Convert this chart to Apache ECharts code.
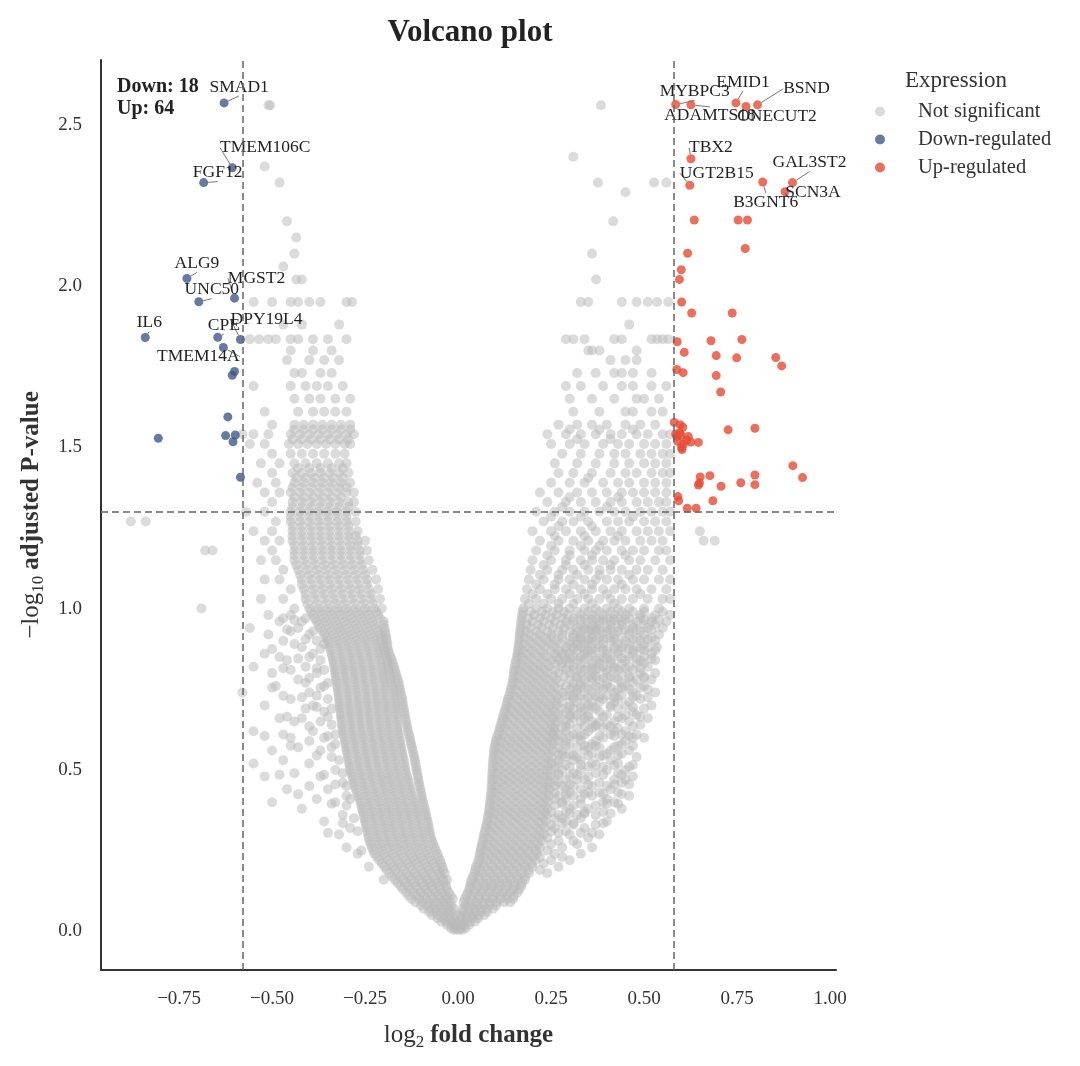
<!DOCTYPE html>
<html>
<head>
<meta charset="utf-8">
<title>Volcano plot</title>
<script src="https://cdn.jsdelivr.net/npm/echarts@6/dist/echarts.min.js"></script>
<style>
  html, body { margin: 0; padding: 0; background: #fff; }
  #chart { width: 1080px; height: 1066px; }
</style>
</head>
<body>
<div id="chart"></div>
<script>
// thresholds: |log2FC| > log2(1.5), padj < 0.05
const fcCut = 0.585
const pCut = 1.301

const xTicks = [-0.75, -0.5, -0.25, 0, 0.25, 0.5, 0.75, 1.0]
const yTicks = [0, 0.5, 1.0, 1.5, 2.0, 2.5]

// down-regulated genes
const downX = [-0.629, -0.607, -0.684, -0.729, -0.697, -0.601, -0.841, -0.646, -0.585, -0.631,
  -0.601, -0.607, -0.619, -0.806, -0.625, -0.599, -0.605, -0.585]
const downY = [2.567, 2.366, 2.320, 2.023, 1.951, 1.962, 1.840, 1.841, 1.834, 1.809,
  1.735, 1.723, 1.594, 1.528, 1.536, 1.538, 1.517, 1.407]
const downGenes = ['SMAD1', 'TMEM106C', 'FGF12', 'ALG9', 'UNC50', 'MGST2', 'IL6', 'CPE', 'DPY19L4', 'TMEM14A',
  '', '', '', '', '', '', '', '']

// up-regulated genes
const upX = [0.585, 0.626, 0.747, 0.774, 0.805, 0.626, 0.623, 0.899, 0.819, 0.879,
  0.635, 0.753, 0.778, 0.772, 0.617, 0.600, 0.595, 0.601, 0.628, 0.737,
  0.589, 0.680, 0.763, 0.608, 0.694, 0.749, 0.854, 0.870, 0.588, 0.605,
  0.694, 0.706, 0.581, 0.597, 0.604, 0.585, 0.599, 0.619, 0.646, 0.590,
  0.606, 0.601, 0.626, 0.614, 0.588, 0.602, 0.726, 0.798, 0.900, 0.926,
  0.651, 0.677, 0.798, 0.649, 0.646, 0.707, 0.760, 0.798, 0.591, 0.593,
  0.685, 0.616, 0.640, 0.596]
const upY = [2.562, 2.561, 2.567, 2.556, 2.561, 2.394, 2.312, 2.320, 2.322, 2.292,
  2.204, 2.204, 2.204, 2.116, 2.101, 2.050, 2.020, 1.950, 1.916, 1.916,
  1.827, 1.830, 1.834, 1.794, 1.784, 1.777, 1.778, 1.752, 1.741, 1.731,
  1.722, 1.671, 1.577, 1.570, 1.562, 1.541, 1.537, 1.533, 1.515, 1.518,
  1.510, 1.499, 1.516, 1.522, 1.534, 1.493, 1.554, 1.559, 1.443, 1.406,
  1.408, 1.412, 1.414, 1.389, 1.383, 1.379, 1.390, 1.384, 1.347, 1.334,
  1.334, 1.311, 1.311, 1.545]
const upGenes = ['MYBPC3', 'ADAMTS18', 'EMID1', 'ONECUT2', 'BSND', 'TBX2', 'UGT2B15', 'GAL3ST2', 'B3GNT6', 'SCN3A']

// not significant genes, one row per -log10(padj) level: [y, x, x, ...]
const nsRows = [
  [0.005, -0.012, -0.004, 0.004, 0.012],
  [0.01, -0.02, -0.008, 0.008, 0.02],
  [0.02, -0.03, -0.018, -0.007, 0.006, 0.017, 0.03],
  [0.03, -0.045, -0.032, -0.018, -0.005, 0.005, 0.018, 0.032, 0.045],
  [0.04, -0.055, -0.04, -0.025, -0.011, 0.01, 0.024, 0.039, 0.054],
  [0.05, -0.07, -0.054, -0.038, -0.023, -0.008, 0.008, 0.022, 0.038, 0.054, 0.07],
  [0.06, -0.078, -0.062, -0.046, -0.031, -0.016, 0.014, 0.03, 0.046, 0.062, 0.078],
  [0.07, -0.092, -0.075, -0.058, -0.041, -0.025, -0.012, 0.012, 0.028, 0.044, 0.06, 0.077, 0.094],
  [0.08, -0.1, -0.083, -0.066, -0.049, -0.033, -0.018, 0.02, 0.036, 0.052, 0.068, 0.085, 0.102],
  [0.09, -0.115, -0.096, -0.077, -0.058, -0.04, -0.022, 0.015, 0.028, 0.047, 0.066, 0.085, 0.104, 0.123, 0.14],
  [0.10, -0.125, -0.105, -0.086, -0.067, -0.049, -0.031, -0.014, 0.018, 0.037, 0.056, 0.075, 0.094, 0.113, 0.132, 0.148],
  [0.11, -0.133, -0.112, -0.092, -0.072, -0.053, -0.035, -0.02, 0.022, 0.036, 0.055, 0.074, 0.093, 0.112, 0.131, 0.15],
  [0.12, -0.14, -0.12, -0.1, -0.08, -0.061, -0.042, -0.025, 0.026, 0.045, 0.064, 0.083, 0.102, 0.121, 0.14, 0.16],
  [0.13, -0.148, -0.128, -0.108, -0.088, -0.068, -0.049, -0.03, 0.03, 0.048, 0.068, 0.088, 0.108, 0.128, 0.148, 0.165],
  [0.14, -0.155, -0.133, -0.112, -0.091, -0.071, -0.051, -0.032, 0.032, 0.052, 0.072, 0.092, 0.112, 0.132, 0.152, 0.17],
  [0.15, -0.163, -0.141, -0.119, -0.097, -0.076, -0.056, -0.036, 0.034, 0.047, 0.068, 0.089, 0.11, 0.131, 0.152, 0.172],
  [0.16, -0.17, -0.148, -0.126, -0.104, -0.083, -0.062, -0.041, -0.03, 0.036, 0.057, 0.078, 0.099, 0.12, 0.141, 0.162, 0.18, -0.2],
  [0.17, -0.178, -0.155, -0.132, -0.11, -0.088, -0.067, -0.046, 0.04, 0.054, 0.075, 0.096, 0.117, 0.138, 0.159, 0.18],
  [0.18, -0.185, -0.162, -0.139, -0.116, -0.094, -0.072, -0.05, -0.036, 0.044, 0.065, 0.086, 0.107, 0.128, 0.149, 0.17, 0.19, 0.24],
  [0.19, -0.192, -0.169, -0.146, -0.123, -0.1, -0.078, -0.056, -0.04, 0.046, 0.06, 0.081, 0.103, 0.125, 0.147, 0.169, 0.19, 0.22],
  [0.20, -0.198, -0.175, -0.152, -0.129, -0.106, -0.083, -0.061, -0.042, 0.048, 0.07, 0.092, 0.114, 0.136, 0.158, 0.18, 0.2, -0.24, 0.27],
  [0.21, -0.205, -0.182, -0.159, -0.136, -0.113, -0.09, -0.067, -0.046, 0.052, 0.066, 0.088, 0.11, 0.132, 0.154, 0.176, 0.198, 0.23],
  [0.22, -0.212, -0.188, -0.164, -0.14, -0.117, -0.094, -0.071, -0.048, 0.055, 0.077, 0.099, 0.121, 0.143, 0.165, 0.187, 0.208, 0.25, 0.3],
  [0.23, -0.218, -0.194, -0.17, -0.146, -0.122, -0.099, -0.076, -0.053, 0.058, 0.07, 0.092, 0.114, 0.136, 0.158, 0.18, 0.202, 0.22, 0.28],
  [0.24, -0.225, -0.2, -0.176, -0.152, -0.128, -0.104, -0.08, -0.055, 0.058, 0.08, 0.102, 0.124, 0.146, 0.168, 0.19, 0.212, -0.27, 0.26, 0.33],
  [0.25, -0.228, -0.204, -0.18, -0.156, -0.132, -0.108, -0.084, -0.06, 0.061, 0.074, 0.097, 0.12, 0.143, 0.166, 0.189, 0.21, 0.24, -0.26],
  [0.26, -0.232, -0.208, -0.184, -0.16, -0.136, -0.112, -0.088, -0.063, 0.062, 0.085, 0.108, 0.131, 0.154, 0.177, 0.2, 0.22, -0.3, 0.28, 0.36],
  [0.27, -0.235, -0.211, -0.187, -0.163, -0.139, -0.115, -0.091, -0.067, 0.064, 0.078, 0.1, 0.123, 0.146, 0.169, 0.192, 0.215, 0.25, 0.32],
  [0.28, -0.238, -0.214, -0.19, -0.166, -0.142, -0.118, -0.094, -0.07, 0.066, 0.089, 0.112, 0.135, 0.158, 0.181, 0.204, 0.226, 0.27, 0.31],
  [0.29, -0.24, -0.216, -0.192, -0.168, -0.144, -0.12, -0.096, -0.073, 0.068, 0.082, 0.104, 0.127, 0.15, 0.173, 0.196, 0.219, 0.24, 0.35],
  [0.30, -0.242, -0.218, -0.194, -0.17, -0.146, -0.122, -0.098, -0.075, 0.07, 0.093, 0.116, 0.139, 0.162, 0.185, 0.208, 0.23, -0.32, 0.3, 0.38],
  [0.31, -0.244, -0.22, -0.196, -0.172, -0.148, -0.124, -0.1, -0.077, 0.072, 0.086, 0.108, 0.131, 0.154, 0.177, 0.2, 0.222, 0.25, 0.29, -0.27],
  [0.32, -0.246, -0.222, -0.198, -0.174, -0.15, -0.126, -0.102, -0.078, 0.074, 0.097, 0.12, 0.143, 0.166, 0.189, 0.212, 0.233, -0.29, 0.26, 0.34],
  [0.33, -0.248, -0.224, -0.2, -0.176, -0.152, -0.128, -0.104, -0.08, 0.076, 0.09, 0.112, 0.135, 0.158, 0.181, 0.204, 0.226, 0.25, 0.31, 0.37],
  [0.34, -0.25, -0.226, -0.202, -0.178, -0.154, -0.13, -0.106, -0.082, 0.078, 0.101, 0.124, 0.147, 0.17, 0.193, 0.216, 0.236, -0.36, 0.29, 0.4],
  [0.35, -0.252, -0.228, -0.204, -0.18, -0.156, -0.132, -0.108, -0.084, 0.08, 0.093, 0.115, 0.138, 0.161, 0.184, 0.207, 0.229, 0.26, 0.28, 0.33, -0.28],
  [0.36, -0.254, -0.23, -0.206, -0.182, -0.158, -0.134, -0.11, -0.086, 0.081, 0.104, 0.127, 0.15, 0.173, 0.196, 0.219, 0.238, -0.31, 0.27, 0.32, 0.37],
  [0.37, -0.256, -0.232, -0.208, -0.184, -0.16, -0.136, -0.112, -0.088, 0.083, 0.096, 0.118, 0.141, 0.164, 0.187, 0.21, 0.232, 0.25, 0.29, 0.34, 0.39],
  [0.38, -0.258, -0.234, -0.21, -0.186, -0.162, -0.138, -0.114, -0.09, 0.084, 0.107, 0.13, 0.153, 0.176, 0.199, 0.222, 0.24, -0.42, 0.3, 0.35, 0.44],
  [0.39, -0.26, -0.236, -0.212, -0.188, -0.164, -0.14, -0.116, -0.092, 0.085, 0.098, 0.12, 0.143, 0.166, 0.189, 0.212, 0.234, 0.26, 0.31, 0.37, -0.3],
  [0.40, -0.262, -0.238, -0.214, -0.19, -0.166, -0.142, -0.118, -0.094, 0.086, 0.109, 0.132, 0.155, 0.178, 0.201, 0.224, 0.242, -0.33, -0.5, 0.28, 0.39, 0.42],
  [0.41, -0.265, -0.241, -0.217, -0.193, -0.169, -0.145, -0.121, -0.096, 0.087, 0.1, 0.122, 0.145, 0.168, 0.191, 0.214, 0.236, 0.26, 0.29, 0.33, 0.4, -0.29, -0.38],
  [0.42, -0.268, -0.244, -0.22, -0.196, -0.172, -0.148, -0.124, -0.098, 0.088, 0.111, 0.134, 0.157, 0.18, 0.203, 0.226, 0.244, -0.3, 0.27, 0.31, 0.36, 0.46],
  [0.43, -0.272, -0.247, -0.222, -0.198, -0.174, -0.15, -0.126, -0.1, 0.089, 0.102, 0.124, 0.147, 0.17, 0.193, 0.216, 0.238, 0.26, 0.3, 0.35, 0.38, 0.43],
  [0.44, -0.275, -0.25, -0.225, -0.2, -0.176, -0.152, -0.128, -0.101, 0.09, 0.113, 0.136, 0.159, 0.182, 0.205, 0.228, 0.246, -0.46, -0.35, 0.29, 0.33, 0.41],
  [0.45, -0.278, -0.253, -0.228, -0.203, -0.179, -0.155, -0.131, -0.104, 0.09, 0.103, 0.125, 0.148, 0.171, 0.194, 0.217, 0.24, 0.26, 0.28, 0.31, 0.36, 0.4, -0.3, -0.4],
  [0.46, -0.28, -0.255, -0.23, -0.205, -0.181, -0.157, -0.133, -0.105, 0.091, 0.114, 0.137, 0.16, 0.183, 0.206, 0.229, 0.247, -0.31, 0.27, 0.38, 0.44],
  [0.47, -0.282, -0.257, -0.232, -0.207, -0.183, -0.159, -0.135, -0.107, 0.091, 0.104, 0.126, 0.149, 0.172, 0.195, 0.218, 0.24, 0.26, 0.29, 0.32, 0.34, 0.42, 0.45],
  [0.48, -0.284, -0.259, -0.234, -0.209, -0.185, -0.161, -0.137, -0.108, 0.092, 0.115, 0.138, 0.161, 0.184, 0.207, 0.23, 0.248, -0.52, -0.37, 0.3, 0.35, 0.47],
  [0.49, -0.287, -0.262, -0.237, -0.212, -0.188, -0.164, -0.14, -0.11, 0.092, 0.105, 0.127, 0.15, 0.173, 0.196, 0.219, 0.241, 0.27, 0.31, 0.37, 0.43, -0.31, -0.44],
  [0.50, -0.29, -0.265, -0.24, -0.215, -0.19, -0.166, -0.142, -0.112, 0.093, 0.116, 0.139, 0.162, 0.185, 0.208, 0.231, 0.25, -0.33, 0.28, 0.33, 0.4, 0.45],
  [0.51, -0.291, -0.266, -0.241, -0.216, -0.191, -0.167, -0.143, -0.113, 0.093, 0.106, 0.128, 0.151, 0.174, 0.197, 0.22, 0.242, 0.26, 0.3, 0.35, 0.39, 0.46],
  [0.52, -0.293, -0.268, -0.243, -0.218, -0.193, -0.169, -0.145, -0.115, 0.094, 0.117, 0.14, 0.163, 0.186, 0.209, 0.232, 0.251, -0.4, -0.55, 0.27, 0.36, 0.43],
  [0.53, -0.294, -0.269, -0.244, -0.219, -0.194, -0.17, -0.146, -0.116, 0.094, 0.107, 0.129, 0.152, 0.175, 0.198, 0.221, 0.243, 0.27, 0.31, 0.33, 0.41, -0.32, -0.47],
  [0.54, -0.296, -0.271, -0.246, -0.221, -0.196, -0.172, -0.148, -0.118, 0.095, 0.118, 0.141, 0.164, 0.187, 0.21, 0.233, 0.253, -0.34, 0.29, 0.32, 0.38, 0.48],
  [0.55, -0.298, -0.273, -0.248, -0.223, -0.198, -0.174, -0.15, -0.12, 0.096, 0.109, 0.131, 0.154, 0.177, 0.2, 0.223, 0.245, 0.27, 0.3, 0.36, 0.4, 0.44],
  [0.56, -0.3, -0.275, -0.25, -0.225, -0.2, -0.176, -0.152, -0.122, 0.097, 0.12, 0.143, 0.166, 0.189, 0.212, 0.235, 0.255, -0.5, -0.37, 0.28, 0.34, 0.41, 0.46],
  [0.57, -0.301, -0.276, -0.251, -0.226, -0.201, -0.177, -0.153, -0.124, 0.098, 0.112, 0.134, 0.157, 0.18, 0.203, 0.226, 0.248, 0.27, 0.32, 0.35, 0.38, 0.42, -0.34, -0.43],
  [0.58, -0.303, -0.278, -0.253, -0.228, -0.203, -0.179, -0.155, -0.126, 0.1, 0.123, 0.146, 0.169, 0.192, 0.215, 0.238, 0.256, -0.33, 0.3, 0.36, 0.44],
  [0.59, -0.304, -0.279, -0.254, -0.229, -0.204, -0.18, -0.156, -0.128, 0.102, 0.115, 0.138, 0.161, 0.184, 0.207, 0.23, 0.25, 0.27, 0.29, 0.33, 0.37, 0.45, -0.4],
  [0.60, -0.306, -0.281, -0.256, -0.231, -0.206, -0.182, -0.158, -0.13, 0.104, 0.127, 0.15, 0.173, 0.196, 0.219, 0.242, 0.258, -0.45, -0.36, 0.28, 0.32, 0.39, 0.47, 0.5],
  [0.61, -0.308, -0.283, -0.258, -0.233, -0.208, -0.184, -0.16, -0.132, 0.107, 0.121, 0.144, 0.167, 0.19, 0.213, 0.236, 0.255, 0.27, 0.31, 0.34, 0.41, 0.44, 0.48, -0.33, -0.47],
  [0.62, -0.31, -0.285, -0.26, -0.235, -0.21, -0.186, -0.162, -0.135, 0.11, 0.133, 0.156, 0.179, 0.202, 0.225, 0.248, 0.26, -0.55, -0.39, 0.29, 0.35, 0.42, 0.45],
  [0.63, -0.311, -0.286, -0.261, -0.236, -0.211, -0.187, -0.163, -0.136, 0.112, 0.126, 0.149, 0.172, 0.195, 0.218, 0.241, 0.258, 0.28, 0.32, 0.36, 0.39, 0.43],
  [0.64, -0.312, -0.287, -0.262, -0.237, -0.212, -0.188, -0.164, -0.138, 0.115, 0.138, 0.161, 0.184, 0.207, 0.23, 0.25, 0.262, -0.34, 0.3, 0.37, 0.4, 0.49],
  [0.65, -0.313, -0.288, -0.263, -0.238, -0.213, -0.189, -0.165, -0.14, 0.117, 0.131, 0.154, 0.177, 0.2, 0.223, 0.246, 0.265, 0.29, 0.33, 0.36, 0.38, 0.42, 0.46, -0.37, -0.44],
  [0.66, -0.314, -0.289, -0.264, -0.239, -0.214, -0.19, -0.166, -0.142, 0.12, 0.143, 0.166, 0.189, 0.212, 0.235, 0.255, 0.275, -0.42, -0.48, 0.31, 0.34, 0.44, 0.51],
  [0.67, -0.315, -0.29, -0.265, -0.24, -0.215, -0.191, -0.167, -0.143, 0.122, 0.136, 0.159, 0.182, 0.205, 0.228, 0.25, 0.27, 0.3, 0.32, 0.35, 0.4, 0.45, 0.48],
  [0.68, -0.316, -0.291, -0.266, -0.241, -0.216, -0.192, -0.168, -0.145, 0.125, 0.148, 0.171, 0.194, 0.217, 0.24, 0.26, 0.29, -0.36, 0.33, 0.38, 0.47],
  [0.69, -0.317, -0.292, -0.267, -0.242, -0.217, -0.193, -0.169, -0.146, 0.127, 0.141, 0.164, 0.187, 0.21, 0.233, 0.255, 0.28, 0.31, 0.34, 0.37, 0.43, 0.5, -0.34, -0.41],
  [0.70, -0.318, -0.293, -0.268, -0.243, -0.218, -0.194, -0.17, -0.148, 0.13, 0.153, 0.176, 0.199, 0.222, 0.245, 0.265, 0.3, -0.52, -0.39, 0.35, 0.41, 0.45, 0.52],
  [0.71, -0.319, -0.294, -0.269, -0.244, -0.219, -0.195, -0.171, -0.149, 0.132, 0.145, 0.168, 0.191, 0.214, 0.237, 0.26, 0.28, 0.32, 0.36, 0.38, 0.42, 0.46],
  [0.72, -0.32, -0.295, -0.27, -0.245, -0.22, -0.196, -0.172, -0.15, 0.134, 0.157, 0.18, 0.203, 0.226, 0.249, 0.27, 0.31, -0.35, -0.45, 0.34, 0.39, 0.43, 0.49],
  [0.73, -0.321, -0.296, -0.271, -0.246, -0.221, -0.197, -0.173, -0.152, 0.137, 0.151, 0.174, 0.197, 0.22, 0.243, 0.265, 0.29, 0.3, 0.33, 0.37, 0.4, 0.44, 0.48, -0.38, -0.47],
  [0.74, -0.322, -0.297, -0.272, -0.247, -0.222, -0.198, -0.174, -0.155, 0.14, 0.163, 0.186, 0.209, 0.232, 0.255, 0.28, 0.32, -0.58, -0.4, 0.36, 0.42, 0.47, 0.53],
  [0.75, -0.323, -0.298, -0.273, -0.248, -0.223, -0.199, -0.176, -0.156, 0.142, 0.155, 0.178, 0.201, 0.224, 0.247, 0.27, 0.3, 0.32, 0.35, 0.39, 0.43, 0.46, 0.51],
  [0.76, -0.325, -0.3, -0.275, -0.25, -0.225, -0.2, -0.178, -0.158, 0.144, 0.167, 0.19, 0.213, 0.236, 0.259, 0.29, 0.33, -0.36, -0.49, 0.37, 0.4, 0.45, 0.5],
  [0.77, -0.326, -0.301, -0.276, -0.251, -0.226, -0.201, -0.18, -0.16, 0.146, 0.159, 0.182, 0.205, 0.228, 0.251, 0.275, 0.31, 0.33, 0.36, 0.4, 0.44, 0.47, -0.35, -0.41],
  [0.78, -0.328, -0.303, -0.278, -0.253, -0.228, -0.203, -0.181, -0.162, 0.148, 0.171, 0.194, 0.217, 0.24, 0.263, 0.3, 0.34, -0.43, 0.38, 0.43, 0.48, 0.52],
  [0.79, -0.329, -0.304, -0.279, -0.254, -0.229, -0.204, -0.183, -0.165, 0.149, 0.162, 0.185, 0.208, 0.231, 0.256, 0.285, 0.32, 0.35, 0.37, 0.41, 0.46, 0.5],
  [0.80, -0.33, -0.305, -0.28, -0.255, -0.23, -0.205, -0.185, -0.168, 0.15, 0.173, 0.196, 0.219, 0.242, 0.27, 0.3, 0.33, -0.38, -0.5, 0.36, 0.4, 0.44, 0.49, 0.53],
  [0.81, -0.331, -0.306, -0.281, -0.256, -0.231, -0.206, -0.187, -0.17, 0.151, 0.165, 0.188, 0.211, 0.234, 0.26, 0.29, 0.31, 0.34, 0.37, 0.4, 0.43, 0.47, -0.36, -0.45],
  [0.82, -0.333, -0.308, -0.283, -0.258, -0.233, -0.208, -0.188, -0.172, 0.153, 0.176, 0.199, 0.222, 0.245, 0.28, 0.31, 0.35, -0.41, -0.55, 0.39, 0.42, 0.46, 0.51],
  [0.83, -0.334, -0.309, -0.284, -0.259, -0.234, -0.209, -0.19, -0.175, 0.154, 0.168, 0.191, 0.214, 0.238, 0.26, 0.28, 0.3, 0.33, 0.36, 0.38, 0.41, 0.44, 0.48, 0.5],
  [0.84, -0.336, -0.311, -0.286, -0.261, -0.236, -0.211, -0.19, -0.178, 0.156, 0.179, 0.202, 0.225, 0.25, 0.27, 0.29, 0.32, 0.37, -0.37, -0.46, 0.41, 0.45, 0.49, 0.53],
  [0.85, -0.338, -0.313, -0.288, -0.263, -0.238, -0.213, -0.193, -0.181, 0.158, 0.171, 0.194, 0.218, 0.24, 0.265, 0.285, 0.31, 0.33, 0.35, 0.39, 0.42, 0.46, 0.5, -0.4, -0.48],
  [0.86, -0.34, -0.315, -0.29, -0.265, -0.24, -0.215, -0.195, -0.185, 0.16, 0.183, 0.206, 0.23, 0.26, 0.28, 0.3, 0.34, 0.36, -0.39, -0.52, 0.4, 0.43, 0.47, 0.52],
  [0.87, -0.342, -0.317, -0.292, -0.267, -0.242, -0.217, -0.197, -0.187, 0.161, 0.174, 0.198, 0.222, 0.248, 0.27, 0.29, 0.32, 0.35, 0.37, 0.4, 0.44, 0.47, 0.5, 0.53],
  [0.88, -0.345, -0.32, -0.295, -0.27, -0.245, -0.22, -0.2, -0.19, 0.162, 0.186, 0.21, 0.235, 0.26, 0.29, 0.31, 0.33, 0.38, -0.42, 0.42, 0.44, 0.48, 0.51, 0.535],
  [0.89, -0.347, -0.322, -0.297, -0.272, -0.247, -0.222, -0.202, -0.19, 0.163, 0.177, 0.2, 0.225, 0.25, 0.275, 0.3, 0.32, 0.34, 0.36, 0.39, 0.43, 0.46, 0.5, -0.36, -0.44],
  [0.90, -0.35, -0.325, -0.3, -0.275, -0.25, -0.225, -0.205, -0.192, 0.165, 0.19, 0.215, 0.24, 0.265, 0.3, 0.32, 0.35, 0.37, -0.38, -0.47, 0.41, 0.45, 0.49, 0.53],
  [0.91, -0.355, -0.33, -0.305, -0.28, -0.255, -0.23, -0.208, -0.193, 0.165, 0.18, 0.205, 0.23, 0.255, 0.28, 0.31, 0.33, 0.36, 0.38, 0.41, 0.44, 0.48, 0.52],
  [0.92, -0.36, -0.335, -0.31, -0.285, -0.26, -0.235, -0.21, -0.195, 0.166, 0.192, 0.22, 0.25, 0.28, 0.31, 0.33, 0.36, 0.39, -0.4, -0.51, 0.42, 0.46, 0.5, 0.54],
  [0.93, -0.365, -0.34, -0.315, -0.29, -0.265, -0.24, -0.215, -0.196, 0.167, 0.182, 0.21, 0.24, 0.27, 0.3, 0.32, 0.35, 0.37, 0.4, 0.43, 0.46, 0.49, -0.39, -0.45],
  [0.94, -0.37, -0.345, -0.32, -0.295, -0.27, -0.245, -0.22, -0.198, 0.168, 0.195, 0.225, 0.255, 0.285, 0.32, 0.34, 0.37, 0.4, -0.43, -0.56, 0.43, 0.47, 0.51, 0.55],
  [0.95, -0.375, -0.35, -0.325, -0.3, -0.275, -0.25, -0.225, -0.2, 0.169, 0.185, 0.215, 0.245, 0.275, 0.3, 0.33, 0.36, 0.38, 0.41, 0.44, 0.47, 0.5, 0.53],
  [0.96, -0.38, -0.355, -0.33, -0.305, -0.28, -0.255, -0.23, -0.2, 0.17, 0.2, 0.23, 0.26, 0.29, 0.31, 0.35, 0.38, 0.41, -0.42, -0.48, 0.44, 0.48, 0.52, 0.56],
  [0.97, -0.385, -0.36, -0.335, -0.31, -0.285, -0.26, -0.235, -0.21, 0.171, 0.19, 0.22, 0.25, 0.28, 0.31, 0.34, 0.37, 0.4, 0.43, 0.46, 0.49, 0.52, -0.41, -0.47],
  [0.98, -0.39, -0.365, -0.34, -0.315, -0.29, -0.265, -0.24, -0.215, 0.172, 0.205, 0.235, 0.265, 0.295, 0.33, 0.36, 0.39, 0.42, -0.45, -0.51, 0.45, 0.49, 0.53, 0.57],
  [0.99, -0.395, -0.37, -0.345, -0.32, -0.295, -0.27, -0.245, -0.22, 0.174, 0.195, 0.225, 0.255, 0.285, 0.32, 0.35, 0.38, 0.41, 0.44, 0.47, 0.5, 0.55],
  [1.00, -0.4, -0.375, -0.35, -0.325, -0.3, -0.275, -0.25, -0.225, -0.205, 0.175, 0.21, 0.24, 0.27, 0.3, 0.34, 0.37, 0.4, 0.43, -0.44, -0.69, 0.46, 0.5, 0.54],
  [1.015, -0.405, -0.38, -0.355, -0.33, -0.305, -0.28, -0.255, -0.23, 0.19, 0.23, 0.27, 0.31, 0.36, 0.42],
  [1.03, -0.41, -0.385, -0.36, -0.335, -0.31, -0.285, -0.26, -0.235, -0.21, 0.18, 0.21, 0.25, 0.28, 0.32, 0.35, 0.38, 0.41, 0.44, -0.47, -0.53, 0.47, 0.51, 0.55, 0.57],
  [1.045, -0.41, -0.385, -0.36, -0.335, -0.31, -0.285, -0.26, -0.235, 0.2, 0.24, 0.3, 0.34, 0.4, 0.49],
  [1.06, -0.415, -0.39, -0.365, -0.34, -0.315, -0.29, -0.265, -0.24, -0.215, 0.185, 0.22, 0.26, 0.29, 0.33, 0.36, 0.39, 0.42, 0.45, -0.45, 0.48, 0.52, 0.56],
  [1.075, -0.42, -0.395, -0.37, -0.345, -0.32, -0.295, -0.27, -0.245, 0.21, 0.26, 0.31, 0.36, 0.44],
  [1.09, -0.42, -0.395, -0.37, -0.345, -0.32, -0.295, -0.27, -0.245, -0.22, 0.19, 0.23, 0.27, 0.3, 0.34, 0.37, 0.4, 0.43, -0.48, -0.52, 0.47, 0.5, 0.54, 0.57],
  [1.105, -0.425, -0.4, -0.375, -0.35, -0.325, -0.3, -0.275, -0.25, 0.22, 0.27, 0.32, 0.38, 0.46],
  [1.12, -0.43, -0.405, -0.38, -0.355, -0.33, -0.305, -0.28, -0.255, -0.23, 0.195, 0.24, 0.28, 0.31, 0.35, 0.38, 0.41, 0.44, -0.47, 0.48, 0.51, 0.55],
  [1.135, -0.435, -0.41, -0.385, -0.36, -0.335, -0.31, -0.285, -0.26, 0.23, 0.29, 0.34, 0.41],
  [1.15, -0.44, -0.415, -0.39, -0.365, -0.34, -0.315, -0.29, -0.265, -0.24, 0.2, 0.25, 0.29, 0.33, 0.36, 0.39, 0.42, 0.46, -0.49, -0.53, 0.49, 0.53, 0.57],
  [1.165, -0.44, -0.415, -0.39, -0.365, -0.34, -0.315, -0.29, -0.265, 0.24, 0.3, 0.36, 0.45],
  [1.18, -0.44, -0.415, -0.39, -0.365, -0.34, -0.315, -0.29, -0.265, -0.245, 0.21, 0.26, 0.3, 0.34, 0.37, 0.4, 0.44, 0.47, -0.5, -0.68, -0.66, 0.5, 0.54, 0.56],
  [1.195, -0.44, -0.415, -0.39, -0.365, -0.34, -0.315, -0.29, -0.27, 0.25, 0.33, 0.38],
  [1.21, -0.445, -0.42, -0.395, -0.37, -0.345, -0.32, -0.295, -0.27, -0.25, 0.22, 0.27, 0.31, 0.35, 0.39, 0.42, 0.45, 0.49, -0.48, -0.52, 0.52, 0.55, 0.66, 0.69],
  [1.225, -0.445, -0.42, -0.395, -0.37, -0.345, -0.32, -0.295, -0.275, 0.26, 0.34, 0.43],
  [1.24, -0.445, -0.42, -0.395, -0.37, -0.345, -0.32, -0.295, -0.27, 0.2, 0.25, 0.29, 0.33, 0.37, 0.41, 0.44, 0.48, -0.5, -0.55, 0.51, 0.54, 0.57, 0.65],
  [1.255, -0.445, -0.42, -0.395, -0.37, -0.345, -0.32, -0.295, 0.27, 0.36],
  [1.27, -0.45, -0.425, -0.4, -0.375, -0.35, -0.325, -0.3, -0.275, 0.23, 0.28, 0.31, 0.35, 0.4, 0.43, 0.46, 0.5, -0.49, -0.88, -0.84, 0.53, 0.56],
  [1.285, -0.45, -0.425, -0.4, -0.375, -0.35, -0.325, -0.3, 0.25, 0.33, 0.47],
  [1.30, -0.45, -0.425, -0.4, -0.375, -0.35, -0.325, -0.3, -0.275, 0.21, 0.26, 0.3, 0.34, 0.38, 0.42, 0.45, 0.49, -0.52, -0.57, 0.52, 0.55, 0.57],
  [1.315, -0.445, -0.42, -0.395, -0.37, -0.345, -0.32, -0.295, 0.28, 0.4],
  [1.33, -0.445, -0.42, -0.395, -0.37, -0.345, -0.32, -0.295, -0.28, 0.24, 0.29, 0.33, 0.37, 0.41, 0.44, 0.48, -0.5, 0.51, 0.54, 0.56],
  [1.345, -0.44, -0.415, -0.39, -0.365, -0.34, -0.315, 0.3, 0.43],
  [1.36, -0.45, -0.425, -0.4, -0.375, -0.35, -0.325, -0.3, -0.28, 0.22, 0.27, 0.32, 0.36, 0.4, 0.44, 0.47, -0.48, -0.52, 0.5, 0.53, 0.56],
  [1.375, -0.445, -0.42, -0.395, -0.37, -0.345, -0.32, -0.3],
  [1.39, -0.44, -0.415, -0.39, -0.365, -0.34, -0.315, -0.29, 0.25, 0.3, 0.34, 0.39, 0.43, 0.46, 0.5, -0.49, -0.54, 0.53, 0.56],
  [1.405, -0.435, -0.41, -0.385, -0.36, -0.335, -0.31, 0.35],
  [1.42, -0.445, -0.42, -0.395, -0.37, -0.345, -0.32, -0.295, 0.27, 0.31, 0.36, 0.41, 0.45, 0.48, 0.52, -0.5, 0.55, 0.57],
  [1.435, -0.43, -0.4, -0.37, -0.34, -0.31],
  [1.45, -0.44, -0.41, -0.38, -0.35, -0.32, -0.3, 0.26, 0.32, 0.37, 0.42, 0.46, 0.5, 0.53, -0.48, -0.53, 0.56],
  [1.48, -0.45, -0.42, -0.39, -0.36, -0.33, -0.305, 0.28, 0.33, 0.38, 0.42, 0.45, 0.49, 0.52, 0.55, -0.5, 0.57],
  [1.51, -0.455, -0.43, -0.405, -0.38, -0.355, -0.33, -0.305, -0.29, 0.25, 0.3, 0.34, 0.39, 0.43, 0.46, 0.5, 0.53, 0.56, -0.52, -0.56],
  [1.525, -0.445, -0.42, -0.395, -0.37, -0.345, -0.32, -0.295, 0.32, 0.41],
  [1.54, -0.45, -0.425, -0.4, -0.375, -0.35, -0.325, -0.3, -0.28, 0.24, 0.29, 0.33, 0.37, 0.41, 0.44, 0.48, 0.51, 0.55, 0.57, -0.51, -0.55, -0.58],
  [1.555, -0.44, -0.415, -0.39, -0.365, -0.34, -0.315, -0.29, 0.3, 0.38, 0.47],
  [1.57, -0.44, -0.415, -0.39, -0.365, -0.34, -0.315, -0.29, 0.27, 0.32, 0.36, 0.4, 0.45, 0.49, 0.53, -0.5],
  [1.61, -0.43, -0.39, -0.36, -0.33, -0.3, 0.31, 0.38, 0.45, 0.47, 0.52, 0.55, -0.52],
  [1.65, -0.44, -0.4, -0.37, -0.33, -0.29, 0.3, 0.36, 0.42, 0.48, 0.5, 0.54],
  [1.69, -0.45, -0.41, -0.38, -0.35, -0.31, 0.29, 0.33, 0.39, 0.44, 0.47, 0.52, 0.56, -0.55],
  [1.73, -0.44, -0.42, -0.37, -0.34, 0.32, 0.37, 0.42, 0.44, 0.47, 0.52],
  [1.77, -0.46, -0.4, -0.36, -0.32, 0.41, 0.45, 0.48],
  [1.80, -0.45, -0.39, -0.34, 0.35, 0.36, 0.38, 0.48],
  [1.835, -0.56, -0.535, -0.51, -0.49, -0.45, -0.43, -0.39, -0.35, -0.3, 0.29, 0.31, 0.34, 0.42, 0.44, 0.52, 0.535, 0.55, 0.565],
  [1.88, -0.47, -0.42, -0.32, 0.46],
  [1.95, -0.55, -0.5, -0.45, -0.43, -0.4, -0.37, -0.3, -0.285, 0.33, 0.35, 0.44, 0.48, 0.51, 0.535, 0.565],
  [2.02, -0.435, -0.42, 0.371],
  [2.06, -0.47],
  [2.10, -0.44, 0.36],
  [2.15, -0.435],
  [2.20, -0.46, 0.417],
  [2.29, 0.45],
  [2.32, -0.48, 0.376, 0.527, 0.56],
  [2.37, -0.52],
  [2.40, 0.31],
  [2.56, -0.505, -0.51, 0.384],
  // outer scatter beside both arms
  [0.305, 0.27, 0.33, 0.36, -0.35],
  [0.335, 0.28, 0.31, 0.39, -0.31],
  [0.365, 0.3, 0.34, 0.41],
  [0.395, 0.28, 0.33, 0.4, 0.43, -0.34],
  [0.425, 0.29, 0.34, 0.39, 0.44, -0.43],
  [0.455, 0.3, 0.35, 0.42, 0.46, -0.33],
  [0.485, 0.27, 0.32, 0.39, 0.44, -0.36, -0.48],
  [0.515, 0.29, 0.33, 0.37, 0.42, 0.47],
  [0.545, 0.28, 0.31, 0.35, 0.39, 0.43, -0.38],
  [0.575, 0.29, 0.34, 0.37, 0.43, 0.47, -0.45],
  [0.605, 0.3, 0.33, 0.38, 0.42, 0.46, -0.35, -0.52],
  [0.635, 0.29, 0.34, 0.37, 0.41, 0.47, -0.4],
  [0.665, 0.3, 0.35, 0.39, 0.43, 0.49, -0.35, -0.46],
  [0.695, 0.3, 0.33, 0.36, 0.41, 0.47, -0.38],
  [0.725, 0.31, 0.35, 0.38, 0.42, 0.47, 0.51, -0.42],
  [0.755, 0.31, 0.34, 0.38, 0.41, 0.44, 0.49, -0.37, -0.5],
  [0.785, 0.32, 0.36, 0.39, 0.42, 0.46, 0.5, -0.4],
  [0.815, 0.33, 0.36, 0.38, 0.42, 0.45, 0.49, -0.38, -0.47],
  [0.845, 0.3, 0.34, 0.38, 0.4, 0.44, 0.48, 0.52, -0.43],
  [0.875, 0.31, 0.34, 0.36, 0.39, 0.42, 0.46, 0.49, -0.37, -0.5],
  [0.905, 0.33, 0.35, 0.39, 0.42, 0.47, 0.51, -0.41],
  [0.935, 0.34, 0.36, 0.38, 0.41, 0.45, 0.48, 0.52, -0.46],
  [0.965, 0.33, 0.36, 0.39, 0.42, 0.45, 0.5, 0.54, -0.44]
]

// where each gene label sits relative to its point (px)
const labelOffsets = {
  SMAD1: [15, -16], TMEM106C: [33, -20], FGF12: [14, -10], ALG9: [10, -15], UNC50: [13, -12],
  MGST2: [22, -20], IL6: [4, -15], CPE: [6, -12], DPY19L4: [26, -20], TMEM14A: [-25, 9],
  MYBPC3: [19, -13], ADAMTS18: [19, 11], EMID1: [7, -21], ONECUT2: [31, 10], BSND: [49, -16],
  TBX2: [20, -11], UGT2B15: [27, -12], GAL3ST2: [17, -20], B3GNT6: [3, 20], SCN3A: [28, 1]
}

const FONT = 'Liberation Serif'
const minus = v => String(v).replace('-', '\u2212')

const notSig = []
nsRows.forEach(r => r.slice(1).forEach(x => notSig.push([x, r[0]])))

const toItems = (xs, ys, names) => xs.map((x, i) => {
  const name = names[i] || ''
  const item = { value: [x, ys[i]], name }
  if (name) {
    item.label = { show: true }
    item.labelLine = { show: true }
  }
  return item
})

const geneLabel = {
  show: false,
  position: 'inside',
  formatter: p => p.name,
  fontFamily: FONT,
  fontSize: 17.5,
  color: '#1f1f1f',
  opacity: 1,
  textBorderWidth: 0
}
const geneLine = { show: false, lineStyle: { color: '#555', width: 0.8, opacity: 1 } }
const geneLayout = p => {
  const o = labelOffsets[p.text]
  return o ? { dx: o[0], dy: o[1] } : {}
}

const nameRich = {
  n: { fontFamily: FONT, fontSize: 25, color: '#333' },
  s: { fontFamily: FONT, fontSize: 17, color: '#333', padding: [14, 0, 0, 0] },
  b: { fontFamily: FONT, fontSize: 25, fontWeight: 'bold', color: '#333' }
}

let myChart = echarts.init(document.getElementById('chart'))
myChart.setOption({
  animation: false,
  backgroundColor: '#fff',
  textStyle: { fontFamily: FONT },
  title: [
    { text: 'Volcano plot', left: 465, top: 12, textAlign: 'center',
      textStyle: { fontFamily: FONT, fontSize: 31, fontWeight: 'bold', color: '#222' } },
    { text: 'Expression', left: 951, top: 64, textAlign: 'center',
      textStyle: { fontFamily: FONT, fontSize: 23, fontWeight: 'normal', color: '#333' } }
  ],
  legend: {
    orient: 'vertical', left: 870, top: 96,
    itemWidth: 66, itemHeight: 10, itemGap: 7, icon: 'circle',
    textStyle: { fontFamily: FONT, fontSize: 20.5, color: '#333' },
    data: ['Not significant', 'Down-regulated', 'Up-regulated']
  },
  graphic: [{
    type: 'text', left: 117, top: 76,
    style: {
      text: 'Down: ' + downX.length + '\nUp: ' + upX.length,
      font: 'bold 20px "Liberation Serif"', fill: '#222', lineHeight: 22
    }
  }],
  grid: { left: 101, right: 244, top: 60, bottom: 96 },
  xAxis: {
    type: 'value', min: -0.96, max: 1.016,
    axisLine: { onZero: false, lineStyle: { color: '#333', width: 2 } },
    axisTick: { show: false },
    splitLine: { show: false },
    axisLabel: {
      customValues: xTicks, formatter: v => minus(v.toFixed(2)),
      fontFamily: FONT, fontSize: 19, color: '#333', margin: 20
    },
    name: '{n|log}{s|2}  {b|fold change}',
    nameLocation: 'middle', nameGap: 50,
    nameTextStyle: { rich: nameRich }
  },
  yAxis: {
    type: 'value', min: -0.12, max: 2.7,
    axisLine: { show: true, onZero: false, lineStyle: { color: '#333', width: 2 } },
    axisTick: { show: false },
    splitLine: { show: false },
    axisLabel: {
      customValues: yTicks, formatter: v => v.toFixed(1),
      fontFamily: FONT, fontSize: 19, color: '#333', margin: 19
    },
    name: '{n|\u2212log}{s|10}  {b|adjusted P-value}',
    nameLocation: 'middle', nameGap: 53, nameRotate: 90,
    nameTextStyle: { rich: nameRich }
  },
  series: [
    {
      name: 'Not significant', type: 'scatter', symbolSize: 10,
      itemStyle: { color: 'rgba(186,186,186,0.52)', opacity: 1 },
      data: notSig,
      markLine: {
        silent: true, symbol: 'none', label: { show: false },
        lineStyle: { color: '#666', type: [7, 4], width: 1.5, opacity: 1 },
        data: [{ xAxis: -fcCut }, { xAxis: fcCut }, { yAxis: pCut }]
      }
    },
    {
      name: 'Down-regulated', type: 'scatter', symbolSize: 9,
      itemStyle: { color: 'rgba(60,84,136,0.78)', opacity: 1 },
      label: geneLabel, labelLine: geneLine, labelLayout: geneLayout,
      data: toItems(downX, downY, downGenes)
    },
    {
      name: 'Up-regulated', type: 'scatter', symbolSize: 9,
      itemStyle: { color: 'rgba(230,75,53,0.8)', opacity: 1 },
      label: geneLabel, labelLine: geneLine, labelLayout: geneLayout,
      data: toItems(upX, upY, upGenes)
    }
  ]
})
window.onresize = () => {
  myChart.resize()
}
</script>
</body>
</html>
